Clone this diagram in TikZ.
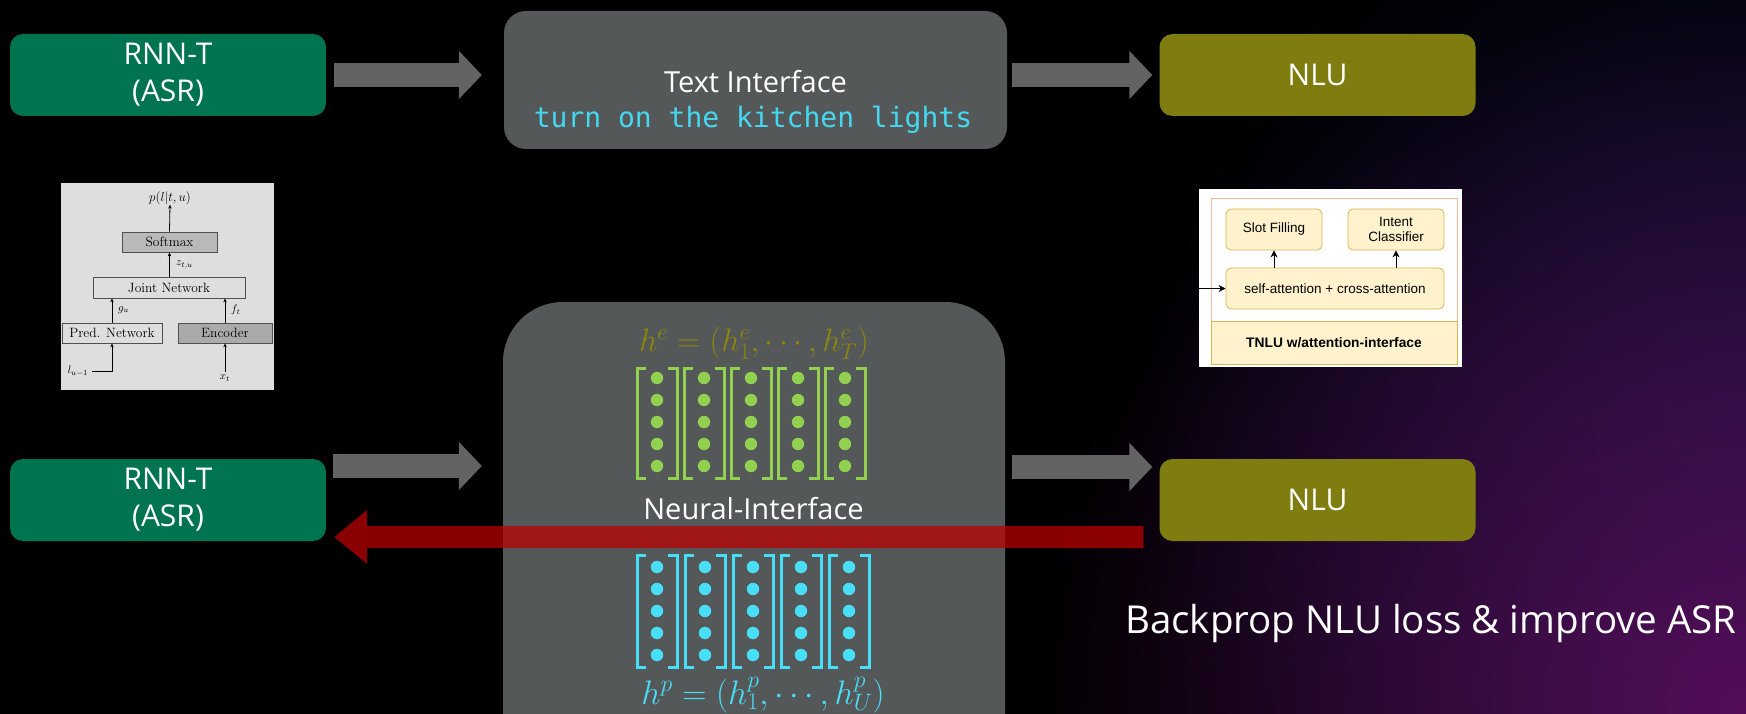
\RequirePackage{fix-cm}
\documentclass[tikz,border=0pt]{standalone}
\usepackage{fontspec}
\newfontfamily\osans{Open Sans}
\newfontfamily\dmono{DejaVu Sans Mono}
\newfontfamily\arialf{Liberation Sans}
\usetikzlibrary{arrows.meta,calc,fadings}
\tikzfading[name=radfade, inner color=transparent!0, outer color=transparent!100]
\definecolor{bggray}{RGB}{84,88,88}
\definecolor{asrgreen}{RGB}{0,115,80}
\definecolor{nluolive}{RGB}{128,125,16}
\definecolor{arrgray}{RGB}{99,99,99}
\definecolor{bpred}{RGB}{190,0,0}
\definecolor{vgreen}{RGB}{146,208,80}
\definecolor{vcyan}{RGB}{72,222,248}
\definecolor{mcyan}{RGB}{70,215,240}
\definecolor{holive}{RGB}{140,135,10}
\definecolor{thumbbg}{RGB}{222,222,222}
\definecolor{thumbdark}{RGB}{185,185,185}
\definecolor{thumbenc}{RGB}{170,170,170}
\definecolor{thumbline}{RGB}{80,80,80}
\definecolor{dioyel}{RGB}{255,242,204}
\definecolor{dioyelb}{RGB}{214,182,86}
\definecolor{dioframe}{RGB}{250,185,150}
\definecolor{cornerpurple}{RGB}{84,14,90}
\definecolor{edgenavy}{RGB}{12,16,50}
\tikzset{
  asrbox/.style={fill=asrgreen, rounded corners=13pt, minimum width=316pt, minimum height=82pt,
    text=white, font=\osans\fontsize{30}{37}\selectfont, align=center, inner sep=0pt},
  nlubox/.style={asrbox, fill=nluolive},
  ifbox/.style={fill=bggray, inner sep=0pt},
  garrow/.style={draw=arrgray, line width=24pt, -{Triangle[length=23pt,width=47pt]}},
  rarrow/.style={draw=bpred, line width=22pt, -{Triangle[length=33pt,width=52pt]}},
  vbrack/.style={line width=3pt},
  tbox/.style={draw=thumbline, line width=0.8pt, inner sep=0pt, font=\fontsize{13.5}{15}\selectfont},
  tlab/.style={inner sep=0pt, font=\fontsize{11}{13}\selectfont},
  tarr/.style={draw=black, line width=0.8pt, -{Stealth[length=4pt,width=3.5pt]}},
  dbox/.style={draw=dioyelb, fill=dioyel, rounded corners=5pt, line width=0.8pt, inner sep=0pt,
    align=center, font=\arialf\fontsize{13.5}{15.5}\selectfont},
  darr/.style={draw=black, line width=1pt, -{Stealth[length=7pt,width=7pt]}},
}
\begin{document}
\begin{tikzpicture}[x=1pt,y=-1pt]
\useasboundingbox (0,0) rectangle (1746,714);
\begin{scope}
\clip (0,0) rectangle (1746,714);
\fill[black] (0,0) rectangle (1746,714);
\fill[edgenavy, path fading=radfade] (1746,420) circle (620);
\fill[cornerpurple, path fading=radfade] (1746,714) circle (720);

% top row
\node[asrbox] (RNN1) at (168,75) {RNN-T\\(ASR)};
\node[ifbox, rounded corners=22pt, minimum width=503pt, minimum height=138pt] (TI) at (755.5,80) {};
\node[anchor=base, inner sep=0pt, text=white, font=\osans\fontsize{29}{34}\selectfont] (TIt) at (755.5,93) {Text Interface};
\node[anchor=base, inner sep=0pt, text=mcyan, font=\dmono\fontsize{28}{32}\selectfont] (TIm) at (753,128) {turn on the kitchen lights};
\node[nlubox] (NLU1) at (1317.5,75) {NLU};
\draw[garrow, shorten <=8pt, shorten >=22pt] (RNN1.east) -- (RNN1.east -| TI.west);
\draw[garrow, shorten <=5pt, shorten >=7pt] (TI.east |- NLU1.west) -- (NLU1.west);

% bottom row
\node[asrbox] (RNN2) at (168,500) {RNN-T\\(ASR)};
\node[nlubox] (NLU2) at (1317.5,500) {NLU};
\node[ifbox, rounded corners=60pt, minimum width=502pt, minimum height=498pt] (NI) at (754,551) {};
\draw[garrow, shorten <=7pt, shorten >=21pt] ([yshift=34pt]RNN2.east) -- ([yshift=34pt]RNN2.east -| NI.west);
\draw[garrow, shorten <=7pt, shorten >=7pt] ([yshift=33pt]NLU2.west -| NI.east) -- ([yshift=33pt]NLU2.west);
\begin{scope}[transparency group, opacity=0.73]
\draw[rarrow, shorten <=16pt, shorten >=8pt] ([yshift=-37pt]NLU2.west) -- ([yshift=-37pt]NLU2.west -| RNN2.east);
\end{scope}

\node[anchor=base, inner sep=0pt, text=white, font=\osans\fontsize{29}{34}\selectfont] (NIt) at (753.5,519) {Neural-Interface};
\node[anchor=base, inner sep=0pt, text=holive, font=\fontsize{32.5}{38}\selectfont] (he) at (754,351) {$h^e=(h^e_1,\cdots,h^e_T)$};
\node[anchor=base, inner sep=0pt, text=vcyan, font=\fontsize{34}{40}\selectfont] (hp) at (763,704) {$h^p=(h^p_1,\cdots,h^p_U)$};

\foreach \i in {0,...,4} {
  \pgfmathsetmacro\cx{657+47*\i}
  \draw[vbrack, vgreen] (\cx-11,368) -- (\cx-20,368) -- (\cx-20,478) -- (\cx-11,478);
  \draw[vbrack, vgreen] (\cx+11,368) -- (\cx+20,368) -- (\cx+20,478) -- (\cx+11,478);
  \foreach \j in {0,...,4} \fill[vgreen] (\cx,378+22*\j) circle (6.2);
  \pgfmathsetmacro\dx{657+48*\i}
  \draw[vbrack, vcyan] (\dx-11,555) -- (\dx-20,555) -- (\dx-20,667) -- (\dx-11,667);
  \draw[vbrack, vcyan] (\dx+11,555) -- (\dx+20,555) -- (\dx+20,667) -- (\dx+11,667);
  \foreach \j in {0,...,4} \fill[vcyan] (\dx,567+22*\j) circle (6.2);
}

\node[anchor=base west, inner sep=0pt, text=white, font=\osans\fontsize{38.5}{44}\selectfont] (bp) at (1125,633) {Backprop NLU loss \& improve ASR};

% RNN-T thumbnail
\fill[thumbbg] (61,183) rectangle (274,390);
\node[tlab, font=\fontsize{13}{15}\selectfont] (pl) at (170,198) {$p(l|t,u)$};
\node[tbox, fill=thumbdark, minimum width=95pt, minimum height=20pt] (sm) at (169.5,242) {Softmax};
\node[tbox, fill=thumbbg, minimum width=152pt, minimum height=21pt] (jn) at (169,287.5) {Joint Network};
\node[tbox, fill=thumbbg, minimum width=100pt, minimum height=20pt] (pn) at (112,333) {Pred. Network};
\node[tbox, fill=thumbenc, minimum width=94pt, minimum height=20pt] (enc) at (225,333) {Encoder};
\draw[tarr] (sm.north) -- (pl.south);
\draw[tarr] (jn.north -| sm.south) -- (sm.south);
\node[tlab, anchor=west] (zl) at (176,265) {$z_{t,u}$};
\draw[tarr] (pn.north) -- (pn.north |- jn.south);
\node[tlab, anchor=west] (gl) at (118,310) {$g_u$};
\draw[tarr] (enc.north) -- (enc.north |- jn.south);
\node[tlab, anchor=west] (fl) at (231,310) {$f_t$};
\node[tlab] (lu) at (78,371) {$l_{u-1}$};
\coordinate (lc) at (112,371);
\draw[tarr] ([xshift=4pt]lu.east) -- (lc) -- (pn.south);
\coordinate (xb) at (225,372);
\draw[tarr] (xb) -- (enc.south);
\node[tlab, anchor=north] (xl) at (225,375) {$x_t$};

% TNLU thumbnail
\fill[white] (1199,189) rectangle (1462,367);
\draw[draw=dioframe, line width=1pt] (1211,199) rectangle (1457,364);
\node[draw=dioyelb, fill=dioyel, line width=0.8pt, minimum width=246pt, minimum height=43pt, inner sep=0pt,
  font=\arialf\bfseries\fontsize{13.8}{16}\selectfont] (band) at (1334,342.5) {TNLU w/attention-interface};
\node[dbox, minimum width=96pt, minimum height=41pt] (sf) at (1274,229.5) {Slot Filling};
\node[dbox, minimum width=96pt, minimum height=41pt] (ic) at (1396,229.5) {Intent\\Classifier};
\node[dbox, minimum width=218pt, minimum height=41pt] (sa) at (1335,288.5) {self-attention + cross-attention};
\draw[darr] (sa.north -| sf.south) -- (sf.south);
\draw[darr] (sa.north -| ic.south) -- (ic.south);
\coordinate (tin) at (1186,288.5);
\draw[darr] (tin) -- (sa.west);
\end{scope}
\end{tikzpicture}
\end{document}
